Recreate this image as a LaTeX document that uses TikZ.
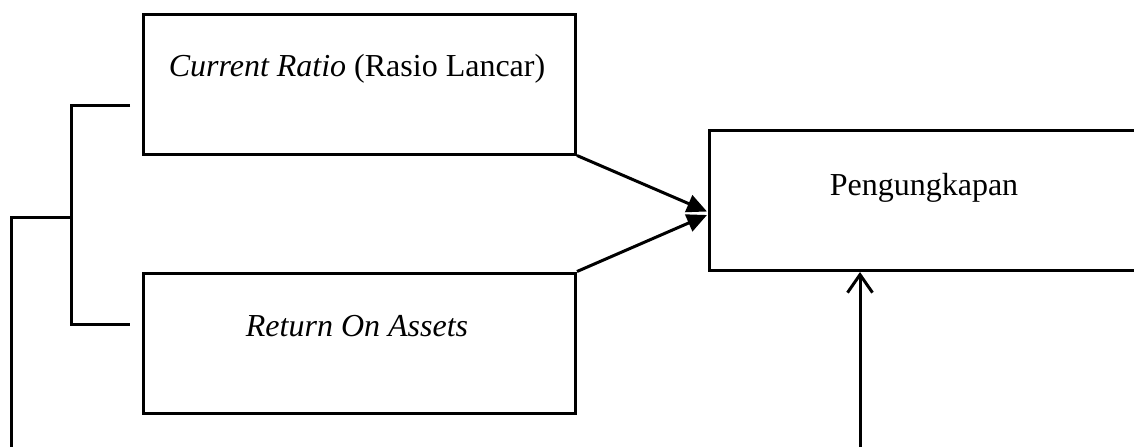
\documentclass[tikz,border=0pt]{standalone}
\usepackage{fontspec}
\setmainfont{Liberation Serif}
\usetikzlibrary{arrows.meta}
\tikzset{
  box/.style={draw, line width=1.5pt, rectangle, inner sep=0pt, anchor=north west},
  lbl/.style={font=\fontsize{16pt}{19pt}\selectfont, inner sep=0pt, anchor=base},
  ln/.style={line width=1.5pt},
  fillarrow/.style={ln, -{Triangle[length=10pt,width=9pt]}},
  openarrow/.style={ln, -{Straight Barb[length=9pt,width=12.5pt,line width=1.5pt]}}
}
\begin{document}
\begin{tikzpicture}[x=0.5pt,y=-0.5pt]
\useasboundingbox (0,0) rectangle (1134,447);
% boxes
\node[box, minimum width=216pt, minimum height=70pt] (cr) at (142,12.5) {};
\node[box, minimum width=216pt, minimum height=70pt] (roa) at (142,271.5) {};
\node[box, minimum width=216pt, minimum height=70pt] (pg) at (708,129) {};
% labels
\node[lbl] (crt) at (357,76) {\textit{Current Ratio} (Rasio Lancar)};
\node[lbl] (roat) at (357,336) {\textit{Return On Assets}};
\node[lbl] (pgt) at (924,195) {Pengungkapan};
% bracket
\coordinate (b1) at (130,105.5);
\coordinate (b2) at (130,324);
\coordinate (bm) at (71,217);
\coordinate (bl) at (11,447);
\draw[ln] (b1) -- (71,105.5) -- (71,324) -- (b2);
\draw[ln] (bm) -- (11,217) -- (bl);
% arrows
\coordinate (t1) at (707,211.5);
\coordinate (t2) at (707,215);
\draw[fillarrow] (cr.south east) -- (t1);
\draw[fillarrow] (roa.north east) -- (t2);
\coordinate (up) at (860,447);
\draw[openarrow] (up) -- (pg.south west -| up);
\end{tikzpicture}
\end{document}
